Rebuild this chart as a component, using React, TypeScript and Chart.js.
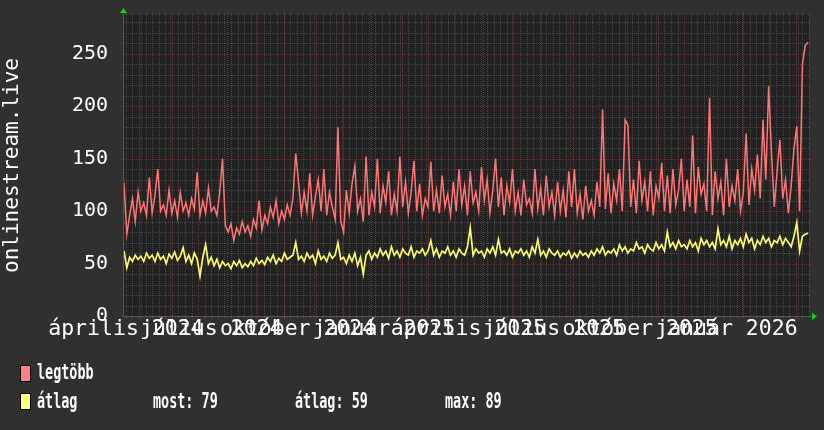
import React, { useEffect, useRef } from "react";
import { Chart, registerables } from "chart.js";
Chart.register(...registerables);

const DAY = 86400000;
const START = Date.UTC(2024, 3, 13);
const TOTAL_DAYS = 730;
const STEP_DAYS = 3;

// legtöbb (max) series, one value every STEP_DAYS days
const maxValues = [
  127, 78, 96, 112, 90, 118, 100, 108, 96, 132,
  98, 115, 140, 100, 106, 96, 120, 98, 110, 94,
  118, 100, 108, 96, 112, 102, 137, 96, 110, 98,
  122, 100, 104, 96, 118, 150, 86, 80, 88, 72,
  84, 78, 90, 80, 86, 76, 92, 84, 110, 82,
  96, 88, 104, 94, 110, 88, 100, 92, 106, 96,
  112, 155, 128, 98, 118, 100, 136, 96, 114, 130,
  100, 140, 96, 118, 104, 92, 180, 90, 80, 120,
  98, 126, 143, 100, 112, 90, 152, 96, 118, 104,
  150, 98, 124, 108, 138, 96, 116, 100, 152, 104,
  128, 98, 118, 148, 100, 126, 96, 112, 104, 147,
  100, 120, 98, 134, 104, 116, 96, 128, 100, 140,
  106, 124, 96, 138, 108, 118, 100, 142, 110, 130,
  98, 120, 150, 104, 132, 96, 124, 108, 140, 100,
  118, 96, 130, 106, 112, 98, 140, 102, 122, 96,
  134, 104, 118, 96, 128, 100, 120, 94, 138, 104,
  140, 98, 116, 92, 124, 100, 110, 96, 128, 104,
  197, 102, 136, 98, 126, 110, 140, 100, 187, 182,
  104, 130, 98, 148, 110, 128, 100, 138, 96, 124,
  112, 146, 100, 134, 98, 140, 106, 120, 150, 100,
  130, 104, 172, 98, 142, 116, 126, 100, 208, 96,
  138, 112, 128, 96, 150, 104, 124, 110, 140, 100,
  118, 174, 106, 140, 120, 154, 112, 187, 130, 219,
  156, 104, 138, 168, 112, 130, 98, 124, 160, 181,
  100, 240, 258, 261,
];

// átlag (average) series
const avgValues = [
  62, 46, 56, 52, 58, 54, 57, 52, 60, 55,
  58, 52, 60, 54, 57, 50, 59, 55, 61, 53,
  57, 65, 52, 58, 50, 60, 54, 38, 56, 68,
  50, 56, 48, 54, 46, 52, 48, 50, 45, 52,
  48, 53, 46, 50, 47, 52, 48, 55, 50, 53,
  49, 56, 52, 58, 50, 55, 52, 60, 54, 56,
  58, 70, 54, 57, 52, 60, 55, 58, 50, 62,
  54, 57, 52, 60, 55, 58, 70, 54, 56, 50,
  58, 52, 60, 48, 56, 40, 58, 62, 54, 60,
  56, 64, 58, 62, 55, 66, 58, 62, 56, 64,
  60, 58, 66, 56, 62, 60, 64, 58, 62, 72,
  58, 64, 56, 62, 60, 66, 58, 62, 56, 64,
  60, 58, 66, 84, 58, 64, 60, 62, 56, 64,
  60, 66, 58, 73, 60, 62, 58, 64, 56, 62,
  60, 64, 58, 62, 56, 66, 60, 73, 58, 62,
  56, 64, 60, 58, 62, 56, 60, 58, 62, 55,
  60, 56, 62, 58, 60, 56, 62, 58, 64, 60,
  66, 58, 62, 60, 64, 58, 68, 62, 66, 60,
  64, 62, 70, 64, 66, 60, 68, 64, 62, 70,
  64, 68, 62, 80, 66, 70, 64, 72, 66, 68,
  64, 72, 66, 70, 62, 74, 68, 72, 66, 70,
  64, 83, 68, 72, 66, 76, 64, 72, 68, 74,
  66, 78, 70, 74, 64, 72, 68, 76, 70, 74,
  66, 72, 70, 76, 68, 74, 70, 66, 76, 89,
  62, 76, 78, 79,
];

const tickLabels = [
  "április 2024", "július 2024", "október 2024", "január 2025",
  "április 2025", "július 2025", "október 2025", "január 2026",
];
const tickYears = [2024, 2024, 2024, 2025, 2025, 2025, 2025, 2026];
const tickMonths = [3, 6, 9, 0, 3, 6, 9, 0];
const yTicks = [0, 50, 100, 150, 200, 250];
const Y_MAX = 287;

const seriesNames = ["legtöbb", "átlag"];
const statLabels = ["most: 79", "átlag: 59", "max: 89"];

const RED = "#ff7474";
const YELLOW = "#fafa6c";
const FONT = "'DejaVu Sans Mono', monospace";

const tickDays = tickYears.map((y, i) => (Date.UTC(y, tickMonths[i], 15) - START) / DAY);

const gridPlugin = {
  id: "rrdgrid",
  beforeDatasetsDraw(chart: any) {
    const { ctx, chartArea: a, scales } = chart;
    const xs = scales.x, ys = scales.y;
    ctx.save();
    ctx.fillStyle = "#222222";
    ctx.fillRect(a.left, a.top, a.right - a.left, a.bottom - a.top);
    ctx.lineWidth = 1;
    // minor grid
    ctx.setLineDash([1, 1]);
    ctx.strokeStyle = "rgba(128,128,128,0.4)";
    ctx.beginPath();
    for (let v = 10; v <= Y_MAX; v += 10) {
      if (v % 50 === 0) continue;
      const y = Math.round(ys.getPixelForValue(v)) + 0.5;
      ctx.moveTo(a.left, y); ctx.lineTo(a.right, y);
    }
    for (let d = 0; d <= TOTAL_DAYS; d++) {
      const dt = new Date(START + d * DAY);
      if (dt.getUTCDay() === 1 && dt.getUTCDate() !== 1) {
        const x = Math.round(xs.getPixelForValue(d)) + 0.5;
        ctx.moveTo(x, a.top - 2); ctx.lineTo(x, a.bottom + 2);
      }
    }
    ctx.stroke();
    // major grid
    ctx.strokeStyle = "rgba(170,55,55,0.5)";
    ctx.beginPath();
    for (const v of yTicks) {
      if (v === 0) continue;
      const y = Math.round(ys.getPixelForValue(v)) + 0.5;
      ctx.moveTo(a.left - 2, y); ctx.lineTo(a.right + 2, y);
    }
    for (let d = 0; d <= TOTAL_DAYS; d++) {
      const dt = new Date(START + d * DAY);
      if (dt.getUTCDate() === 1) {
        const x = Math.round(xs.getPixelForValue(d)) + 0.5;
        ctx.moveTo(x, a.top - 3); ctx.lineTo(x, a.bottom + 3);
      }
    }
    ctx.stroke();
    ctx.setLineDash([]);
    // axes
    ctx.strokeStyle = "#555555";
    ctx.beginPath();
    ctx.moveTo(a.left - 0.5, a.top - 4); ctx.lineTo(a.left - 0.5, a.bottom + 0.5);
    ctx.lineTo(a.right + 4, a.bottom + 0.5);
    ctx.stroke();
    // arrows
    ctx.fillStyle = "#00dd00";
    ctx.beginPath();
    ctx.moveTo(a.left - 4, a.top - 2); ctx.lineTo(a.left + 3, a.top - 2); ctx.lineTo(a.left - 0.5, a.top - 7);
    ctx.closePath(); ctx.fill();
    ctx.beginPath();
    ctx.moveTo(a.right + 3, a.bottom - 3); ctx.lineTo(a.right + 3, a.bottom + 4); ctx.lineTo(a.right + 8, a.bottom + 0.5);
    ctx.closePath(); ctx.fill();
    ctx.restore();
  },
};

export default function App() {
  const ref = useRef<HTMLCanvasElement>(null);
  useEffect(() => {
    const toPts = (arr: number[]) => arr.map((v, i) => ({ x: i * STEP_DAYS, y: v }));
    const chart = new Chart(ref.current as HTMLCanvasElement, {
      type: "line",
      data: {
        datasets: [
          { label: seriesNames[0], data: toPts(maxValues), borderColor: RED, borderWidth: 1.5, pointRadius: 0, tension: 0, fill: false },
          { label: seriesNames[1], data: toPts(avgValues), borderColor: YELLOW, borderWidth: 1.7, pointRadius: 0, tension: 0, fill: false },
        ],
      },
      plugins: [gridPlugin],
      options: {
        responsive: false,
        animation: false,
        events: [],
        layout: { padding: { left: 0, right: 15, top: 15, bottom: 84 } },
        plugins: { legend: { display: false }, tooltip: { enabled: false } },
        scales: {
          x: {
            type: "linear",
            min: 0,
            max: TOTAL_DAYS,
            grid: { display: false, drawTicks: false },
            border: { display: false },
            afterFit: (s: any) => { s.height = 30; s.paddingLeft = 0; s.paddingRight = 0; },
            afterBuildTicks: (s: any) => { s.ticks = tickDays.map((v) => ({ value: v })); },
            ticks: {
              autoSkip: false,
              maxRotation: 0,
              minRotation: 0,
              padding: 1,
              color: "#ffffff",
              font: { family: FONT, size: 21.5 },
              callback: (_v: any, i: number) => tickLabels[i],
            },
          },
          y: {
            min: 0,
            max: Y_MAX,
            grid: { display: false, drawTicks: false },
            border: { display: false },
            afterFit: (s: any) => { s.width = 124; s.paddingTop = 0; s.paddingBottom = 0; },
            afterBuildTicks: (s: any) => { s.ticks = yTicks.map((v) => ({ value: v })); },
            ticks: {
              padding: 16,
              color: "#ffffff",
              font: { family: FONT, size: 20 },
              callback: (v: any) => String(v),
            },
            title: {
              display: true,
              text: "onlinestream.live",
              color: "#ffffff",
              font: { family: FONT, size: 21 },
              padding: 0,
            },
          },
        },
      },
    } as any);
    return () => chart.destroy();
  }, []);

  const textStyle = (left: number, top: number): React.CSSProperties => ({
    position: "absolute",
    left,
    top,
    fontFamily: FONT,
    fontSize: 21,
    fontWeight: "bold",
    lineHeight: "21px",
    color: "#ffffff",
    whiteSpace: "pre",
    transform: "scaleX(0.64)",
    transformOrigin: "left top",
  });
  const swatch = (top: number, color: string): React.CSSProperties => ({
    position: "absolute",
    left: 20,
    top,
    width: 11,
    height: 17,
    background: color,
    border: "1px solid #000",
    boxSizing: "border-box",
  });

  return (
    <div style={{ position: "fixed", left: 0, top: 0, width: 824, height: 430, background: "#303030", overflow: "hidden" }}>
      <canvas ref={ref} width={824} height={430} style={{ position: "absolute", left: 0, top: 0, width: 824, height: 430 }} />
      <div style={swatch(365, "#ff8080")} />
      <div style={textStyle(37, 362)}>{seriesNames[0]}</div>
      <div style={swatch(393, "#ffff80")} />
      <div style={textStyle(37, 391)}>{seriesNames[1]}</div>
      <div style={textStyle(153, 391)}>{statLabels[0]}</div>
      <div style={textStyle(295, 391)}>{statLabels[1]}</div>
      <div style={textStyle(445, 391)}>{statLabels[2]}</div>
    </div>
  );
}
